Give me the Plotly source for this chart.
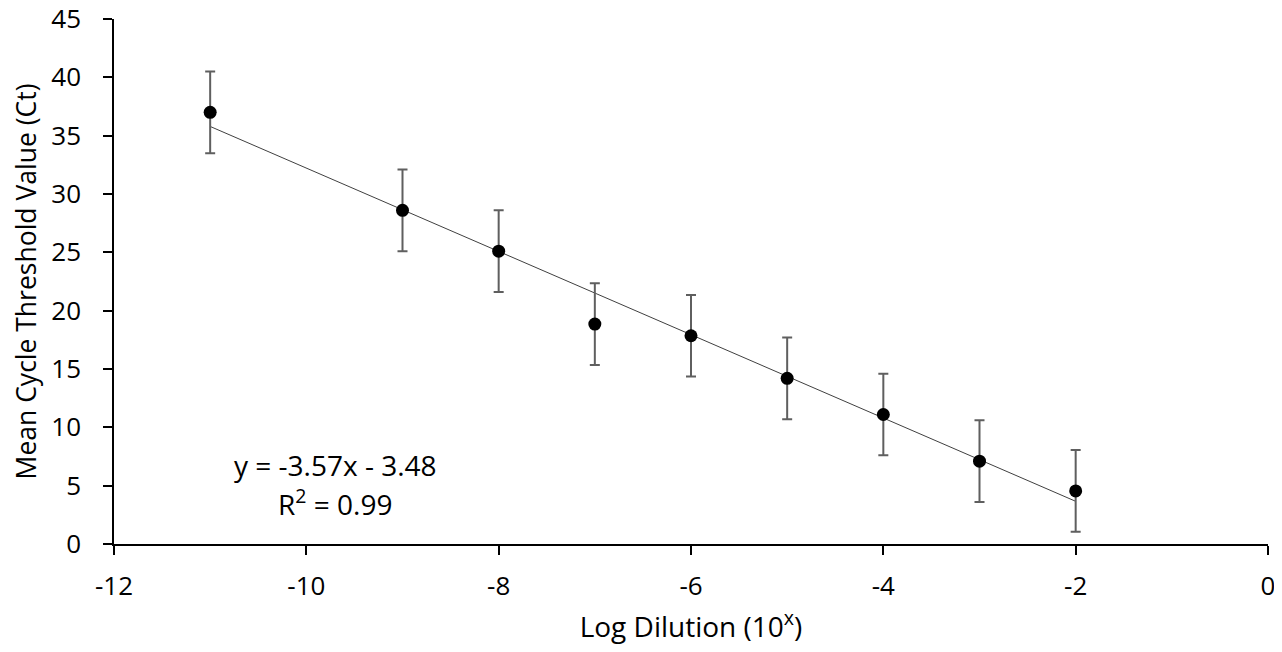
import plotly.graph_objects as go

# Data
log_dilution = [-11, -9, -8, -7, -6, -5, -4, -3, -2]
mean_ct = [37.0, 28.6, 25.1, 18.85, 17.85, 14.2, 11.1, 7.1, 4.55]
ct_error = [3.5, 3.5, 3.5, 3.5, 3.5, 3.5, 3.5, 3.5, 3.5]
slope = -3.57
intercept = -3.48
x_tickvals = [-12, -10, -8, -6, -4, -2, 0]
x_ticktext = ["-12", "-10", "-8", "-6", "-4", "-2", "0"]
y_tickvals = [0, 5, 10, 15, 20, 25, 30, 35, 40, 45]
y_ticktext = ["0", "5", "10", "15", "20", "25", "30", "35", "40", "45"]

fit_x = [min(log_dilution), max(log_dilution)]
fit_y = [slope * v + intercept for v in fit_x]

FONT = "Open Sans"

fig = go.Figure()
fig.add_trace(go.Scatter(
    x=fit_x, y=fit_y, mode="lines",
    line=dict(color="#404040", width=1),
    showlegend=False, hoverinfo="skip",
))
fig.add_trace(go.Scatter(
    x=log_dilution, y=mean_ct, mode="markers",
    marker=dict(color="black", size=13),
    error_y=dict(type="data", array=ct_error, visible=True,
                 color="#5f5f5f", thickness=2, width=5),
    showlegend=False,
))

fig.add_annotation(x=-9.7, y=6.8, xref="x", yref="y",
                   text="y = -3.57x - 3.48", showarrow=False,
                   font=dict(family=FONT, size=28, color="black"))
fig.add_annotation(x=-9.7, y=3.6, xref="x", yref="y",
                   text="R<sup>2</sup> = 0.99", showarrow=False,
                   font=dict(family=FONT, size=28, color="black"))

# page body has an 8px margin, so the figure is sized to fit the window
fig.update_layout(
    width=1274, height=644,
    margin=dict(l=106, r=14, t=11, b=108),
    paper_bgcolor="white", plot_bgcolor="white",
    font=dict(family=FONT, size=26, color="black"),
    xaxis=dict(
        range=[-12, 0], tickmode="array",
        tickvals=x_tickvals, ticktext=x_ticktext,
        showgrid=False, zeroline=False, automargin=False,
        showline=True, linecolor="black", linewidth=1.5,
        ticks="outside", ticklen=9, tickwidth=1.5, tickcolor="black",
        ticklabelstandoff=9, ticklabeloverflow="allow",
        tickfont=dict(family=FONT, size=26),
        title=dict(text="Log Dilution (10<sup>x</sup>)",
                   font=dict(family=FONT, size=28), standoff=15),
    ),
    yaxis=dict(
        range=[0, 45], tickmode="array",
        tickvals=y_tickvals, ticktext=y_ticktext,
        showgrid=False, zeroline=False, automargin=False,
        showline=True, linecolor="black", linewidth=1.5,
        ticks="outside", ticklen=9, tickwidth=1.5, tickcolor="black",
        ticklabelstandoff=17, ticklabeloverflow="allow",
        tickfont=dict(family=FONT, size=26),
        title=dict(text="Mean Cycle Threshold Value (Ct)",
                   font=dict(family=FONT, size=26.5), standoff=10),
    ),
)

fig.write_html("out.html")
